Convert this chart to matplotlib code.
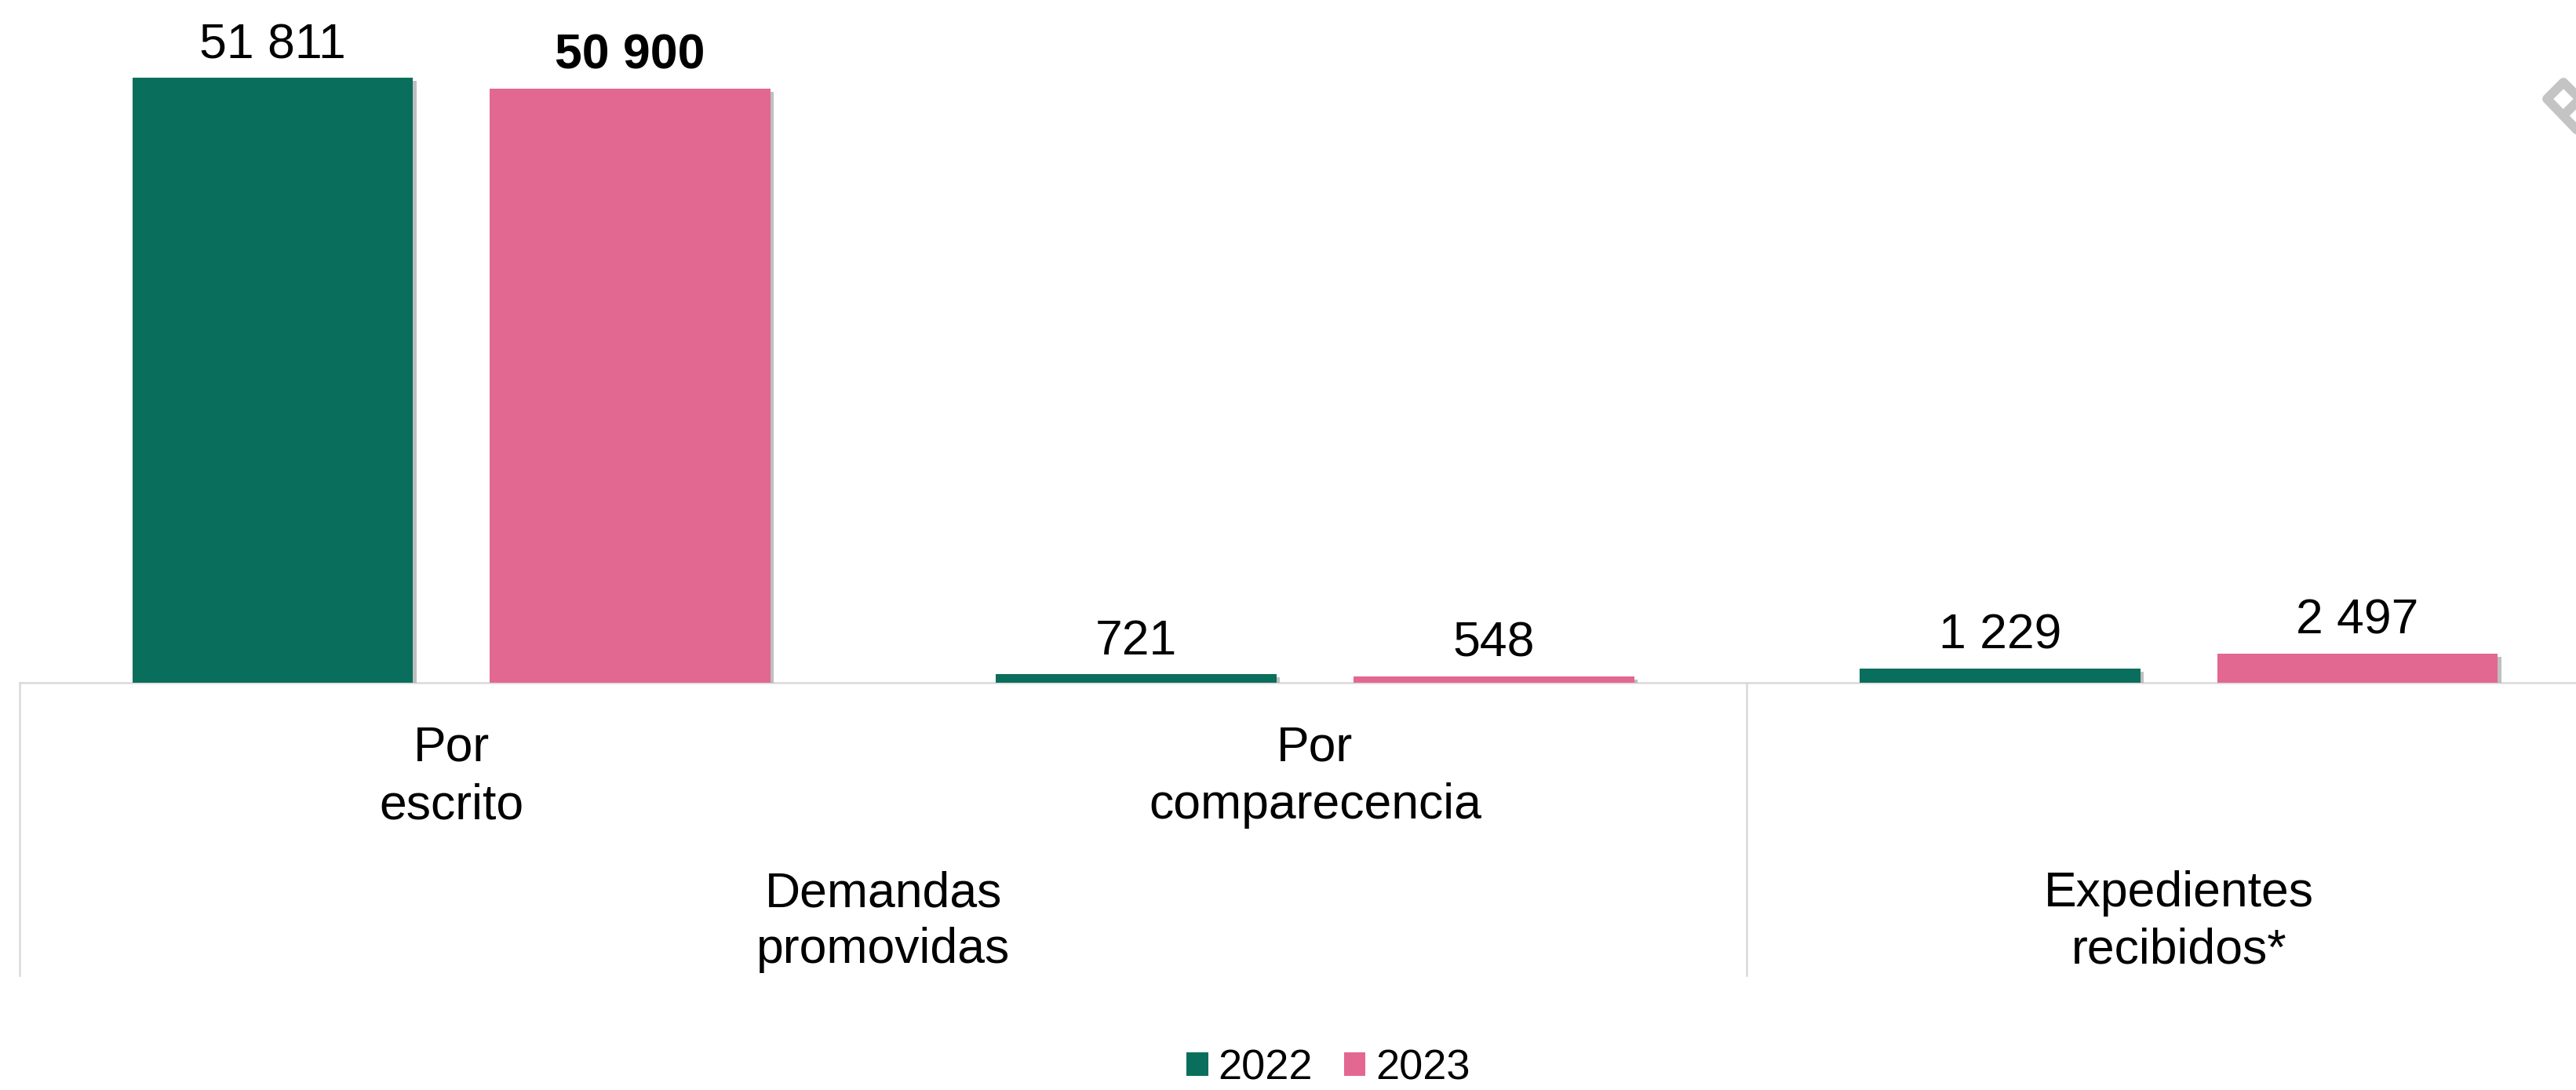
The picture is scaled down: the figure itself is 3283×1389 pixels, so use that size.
import matplotlib
matplotlib.use("Agg")
import matplotlib.pyplot as plt
import matplotlib.patheffects as pe
from matplotlib.patches import Patch
from matplotlib.lines import Line2D
from matplotlib.transforms import blended_transform_factory

plt.rcParams['font.family'] = ['Liberation Sans', 'DejaVu Sans']

# data
subcategories = ["Por\nescrito", "Por\ncomparecencia", ""]
groups = ["Demandas\npromovidas", "Expedientes\nrecibidos*"]
group_centers = [0.5, 2.0]
years = ["2022", "2023"]
values_2022 = [51811, 721, 1229]
values_2023 = [50900, 548, 2497]

green = "#0a6e5c"
pink = "#e26891"
grid_grey = "#d9d9d9"

W, H = 3283, 1389
fig = plt.figure(figsize=(W / 100, H / 100), dpi=100)
# plot area: baseline sits at y=870 px, the right end runs past the edge
base_px = 870
ax = fig.add_axes([25 / W, (H - base_px) / H, (3327 - 25) / W, base_px / H])
ax.set_xlim(-0.5, 2.5)
ax.set_ylim(0, 58464)
ax.axis("off")

x = list(range(len(subcategories)))
width = 0.325
offset = 0.207
shadow = [pe.SimplePatchShadow(offset=(3, -3), shadow_rgbFace="0.45", alpha=0.45), pe.Normal()]

b1 = ax.bar([i - offset for i in x], values_2022, width, color=green, zorder=3)
b2 = ax.bar([i + offset for i in x], values_2023, width, color=pink, zorder=3)
for bar in list(b1) + list(b2):
    bar.set_path_effects(shadow)

def fmt(v):
    return f"{v:,}".replace(",", " ")

for bars, vals, bold_idx in [(b1, values_2022, None), (b2, values_2023, 0)]:
    for i, (bar, v) in enumerate(zip(bars, vals)):
        ax.annotate(fmt(v), (bar.get_x() + bar.get_width() / 2, v),
                    xytext=(0, 18), textcoords="offset points",
                    ha="center", va="baseline", fontsize=45,
                    fontweight="bold" if i == bold_idx else "normal")

# category axis lines
ax.axhline(0, color=grid_grey, lw=1.8, zorder=1, clip_on=False)
trans = blended_transform_factory(ax.transData, fig.transFigure)
sep_bottom = (H - 1243) / H
for xs in [-0.5, 1.5]:
    ax.add_line(Line2D([xs, xs], [(H - base_px) / H, sep_bottom], transform=trans,
                       color=grid_grey, lw=1.8, clip_on=False))

# subcategory labels (two lines each)
for i, lab in enumerate(subcategories):
    lines = lab.split("\n") if lab else []
    for k, line in enumerate(lines):
        ax.text(i, (H - (970 + 73 * k)) / H, line, transform=trans,
                ha="center", va="baseline", fontsize=45)

# group labels
for gx, lab in zip(group_centers, groups):
    for k, line in enumerate(lab.split("\n")):
        ax.text(gx, (H - (1155 + 72 * k)) / H, line, transform=trans,
                ha="center", va="baseline", fontsize=45)

# legend
handles = [Patch(facecolor=green, label=years[0]), Patch(facecolor=pink, label=years[1])]
fig.legend(handles=handles, loc="lower center", bbox_to_anchor=(0.5157, 0.002),
           ncol=2, frameon=False, fontsize=39, handlelength=0.5, handleheight=0.5,
           handletextpad=0.24, columnspacing=0.74, borderpad=0, borderaxespad=0)

# grey glyph at the top right corner
def fy(py):
    return (H - py) / H

mark = [(3300, 182), (3246, 126), (3267, 105), (3288, 126), (3267, 147)]
fig.add_artist(Line2D([p[0] / W for p in mark], [fy(p[1]) for p in mark],
                      transform=fig.transFigure, color="#c4c4c4", lw=8.5,
                      solid_joinstyle="round", solid_capstyle="round"))

fig.savefig("out.png", dpi=100, facecolor="white")
